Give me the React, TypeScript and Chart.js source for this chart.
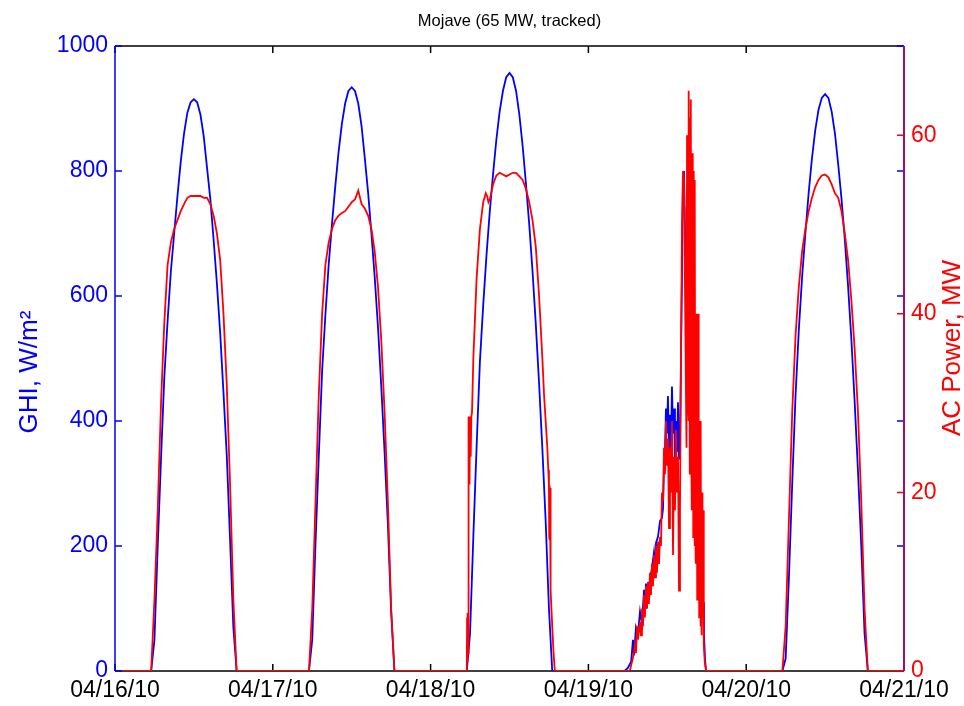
import React, { useEffect, useRef } from 'react';
import { Chart, registerables } from 'chart.js';

Chart.register(...registerables);

const titleText = 'Mojave (65 MW, tracked)';
const leftTitle = 'GHI, W/m\u00B2';
const rightTitle = 'AC Power, MW';
const dateLabels = ['04/16/10', '04/17/10', '04/18/10', '04/19/10', '04/20/10', '04/21/10'];
const ghiTicks = [0, 200, 400, 600, 800, 1000];
const acTicks = [0, 20, 40, 60];

// Clear-day sampling hours (hour of day)
const clearHours = [5.5, 6, 6.5, 7, 7.5, 8, 8.5, 9, 9.5, 10, 10.5, 11, 11.5, 12, 12.5, 13, 13.5, 14, 14.5, 15, 15.5, 16, 16.5, 17, 17.5, 18, 18.5];

const ghiDay1 = [0, 50, 200, 340, 470, 560, 640, 700, 760, 815, 860, 893, 910, 915, 910, 890, 855, 805, 755, 690, 620, 540, 445, 345, 210, 70, 0];
const acDay1 = [0, 8, 18, 30, 39, 45.5, 48, 49.5, 50.5, 51.5, 52.3, 53, 53.2, 53.2, 53.2, 53.2, 53, 53, 52.3, 51, 49, 46, 40, 32, 21, 8, 0];

const ghiDay2 = [0, 50, 205, 345, 480, 570, 650, 715, 775, 830, 875, 908, 928, 934, 928, 908, 872, 820, 765, 700, 630, 550, 455, 350, 235, 95, 0];
const acDay2 = [0, 7, 19, 31, 40, 45.5, 48, 49.5, 50.5, 51, 51.3, 51.5, 52, 52.5, 52.8, 53.8, 52.3, 51.8, 51, 49.5, 47, 43, 37, 29, 19, 7, 0];

const ghiDay3 = [0, 60, 215, 360, 495, 585, 665, 735, 795, 850, 895, 928, 950, 957, 950, 928, 890, 840, 780, 715, 640, 555, 460, 355, 240, 100, 0];
const acDay3Hours = [5.5, 5.55, 5.6, 5.65, 5.7, 5.75, 5.8, 5.85, 5.9, 5.95, 6.0, 6.1, 6.2, 6.3, 6.5, 7.0, 7.5, 8.0, 8.4, 8.6, 8.8, 9.0, 9.5, 10.0, 10.5, 11.0, 11.5, 12.0, 12.5, 13.0, 13.5, 14.0, 14.5, 15.0, 15.5, 16.0, 16.5, 17.0, 17.25, 17.5, 17.75, 17.9, 18.0, 18.04, 18.08, 18.12, 18.16, 18.2, 18.3, 18.5, 18.7, 18.9];
const acDay3 = [0, 6, 1, 6.5, 2, 22, 28.5, 21, 28.5, 22, 28, 24, 28.5, 29, 35, 44, 49.5, 52.5, 53.5, 53.2, 52.5, 52.8, 54.5, 55.5, 55.8, 55.6, 55.4, 55.6, 55.8, 55.8, 55.4, 55, 54, 52.5, 50.5, 47.5, 42, 35, 31, 28, 25, 22.5, 20.8, 15, 20.8, 14.7, 20.5, 15, 9, 5, 2, 0];

const ghiDay4Hours = [5.5, 6.0, 6.5, 6.78, 6.93, 7.24, 7.54, 7.85, 8.15, 8.46, 8.6, 8.76, 8.9, 9.06, 9.37, 9.67, 9.98, 10.13, 10.28, 10.59, 10.89, 11.19, 11.35, 11.5, 11.65, 11.8, 11.95, 12.1, 12.26, 12.41, 12.56, 12.71, 12.87, 13.02, 13.17, 13.32, 13.47, 13.63, 13.78, 13.93, 14.08, 14.24, 14.39, 14.54, 14.7, 14.85, 15.0, 15.15, 15.3, 15.45, 15.6, 15.76, 15.9, 16.06, 16.21, 16.36, 16.52, 16.67, 16.82, 16.97, 17.13, 17.28, 17.43, 17.58, 17.73, 17.89];
const ghiDay4 = [0, 5, 15, 50, 25, 70, 60, 95, 75, 130, 95, 140, 100, 125, 145, 165, 190, 170, 205, 215, 240, 245, 260, 330, 355, 420, 380, 440, 350, 410, 360, 455, 380, 420, 330, 400, 350, 430, 340, 360, 500, 640, 790, 800, 700, 600, 480, 560, 420, 500, 380, 470, 330, 400, 280, 360, 240, 300, 180, 230, 140, 170, 110, 60, 20, 0];
const acDay4Hours = [6.3, 6.78, 7.09, 7.24, 7.4, 7.54, 7.85, 8.0, 8.15, 8.3, 8.46, 8.6, 8.76, 8.9, 9.06, 9.2, 9.37, 9.52, 9.67, 9.83, 9.98, 10.13, 10.28, 10.43, 10.59, 10.74, 10.89, 11.04, 11.19, 11.35, 11.5, 11.65, 11.8, 11.95, 12.1, 12.26, 12.41, 12.56, 12.71, 12.87, 13.02, 13.17, 13.32, 13.47, 13.63, 13.78, 13.93, 14.08, 14.24, 14.39, 14.54, 14.7,
  14.85, 14.9, 14.95, 15.0, 15.05, 15.1, 15.15, 15.2, 15.25, 15.3, 15.35, 15.4, 15.45, 15.5, 15.55, 15.6, 15.65, 15.7, 15.75, 15.8, 15.85, 15.9, 15.95, 16.0, 16.05, 16.1, 16.15, 16.2, 16.25, 16.3, 16.35, 16.4, 16.45, 16.5, 16.55, 16.6, 16.65, 16.7, 16.75, 16.8, 16.85, 16.9, 16.95, 17.0, 17.05, 17.1, 17.15, 17.2, 17.25, 17.3, 17.35, 17.45, 17.55, 17.7, 17.89];
const acDay4 = [0, 1.5, 3, 2, 5, 3.5, 5.5, 4, 7, 5, 8.5, 6, 9.5, 7, 10, 7.5, 11, 8.5, 12, 9.5, 13, 10.5, 14, 11, 14.5, 12, 15, 14, 20, 19, 25, 22, 28, 23, 26, 16, 25, 20, 28, 13, 24, 18, 27, 20, 24, 9, 18, 35, 50, 56, 55, 42,
  30, 52, 25, 60, 35, 58, 30, 63, 28, 65, 40, 62, 22, 57, 30, 64, 25, 50, 18, 58, 22, 45, 15, 56, 20, 42, 14, 55, 18, 38, 12, 40, 20, 35, 8, 30, 15, 40, 10, 25, 6, 28, 10, 22, 5, 28, 8, 15, 4, 20, 6, 18, 3, 1, 0];

const ghiDay5 = [0, 20, 150, 300, 440, 545, 630, 700, 765, 820, 865, 898, 917, 923, 917, 895, 860, 810, 755, 690, 615, 530, 430, 320, 200, 60, 0];
const acDay5 = [0, 5, 17, 29, 37.5, 43, 47, 49.5, 51.5, 53, 54.2, 55, 55.5, 55.6, 55.3, 54.5, 53.5, 53, 51.5, 49, 46, 41.5, 36, 29, 19, 7, 0];

const seriesStartHour = 1;
const seriesEndHour = 119.9;

type Seg = { day: number; hours: number[]; values: number[] };

function buildSeries(segs: Seg[]) {
  const pts: { x: number; y: number }[] = [{ x: seriesStartHour, y: 0 }];
  segs.forEach((s) => {
    s.hours.forEach((h, i) => pts.push({ x: s.day * 24 + h, y: s.values[i] }));
  });
  pts.push({ x: seriesEndHour, y: 0 });
  return pts;
}

const FONT = "'Liberation Sans', Arial, Helvetica, sans-serif";

const framePlugin = {
  id: 'matlabFrame',
  beforeDatasetsDraw(chart: any) {
    const { ctx, chartArea } = chart;
    const { left, right, top, bottom } = chartArea;
    const yL = chart.scales.yL;
    const yR = chart.scales.yR;
    const x = chart.scales.x;
    ctx.save();
    ctx.lineWidth = 1.5;
    ctx.strokeStyle = '#000000';
    ctx.beginPath();
    ctx.moveTo(left, top);
    ctx.lineTo(right, top);
    ctx.moveTo(left, bottom);
    ctx.lineTo(right, bottom);
    ctx.stroke();
    ctx.beginPath();
    dateLabels.forEach((_, i) => {
      const px = x.getPixelForValue(i * 24);
      ctx.moveTo(px, bottom);
      ctx.lineTo(px, bottom - 7);
      ctx.moveTo(px, top);
      ctx.lineTo(px, top + 7);
    });
    ctx.stroke();
    ctx.strokeStyle = '#0000ff';
    ctx.beginPath();
    ctx.moveTo(left, top);
    ctx.lineTo(left, bottom);
    ghiTicks.forEach((v) => {
      const py = yL.getPixelForValue(v);
      ctx.moveTo(left, py);
      ctx.lineTo(left + 7, py);
      ctx.moveTo(right, py);
      ctx.lineTo(right - 7, py);
    });
    ctx.stroke();
    ctx.strokeStyle = '#ff0000';
    ctx.beginPath();
    acTicks.forEach((v) => {
      const py = yR.getPixelForValue(v);
      ctx.moveTo(right, py);
      ctx.lineTo(right - 7, py);
    });
    ctx.stroke();
    ctx.strokeStyle = '#a0106a';
    ctx.lineWidth = 2;
    ctx.beginPath();
    ctx.moveTo(right, top);
    ctx.lineTo(right, bottom);
    ctx.stroke();
    ctx.restore();
  },
  afterDraw(chart: any) {
    const { ctx, chartArea } = chart;
    const { left, right } = chartArea;
    ctx.save();
    ctx.fillStyle = '#000000';
    ctx.font = `16.5px ${FONT}`;
    ctx.textAlign = 'center';
    ctx.textBaseline = 'middle';
    ctx.fillText(titleText, (left + right) / 2, 21);
    ctx.restore();

    ctx.save();
    ctx.font = `26px ${FONT}`;
    ctx.fillStyle = '#0000ff';
    ctx.textAlign = 'center';
    ctx.textBaseline = 'middle';
    ctx.translate(30, 372);
    ctx.rotate(-Math.PI / 2);
    ctx.fillText(leftTitle, 0, 0);
    ctx.restore();

    ctx.save();
    ctx.font = `26px ${FONT}`;
    ctx.fillStyle = '#ff0000';
    ctx.textAlign = 'center';
    ctx.textBaseline = 'middle';
    ctx.translate(953, 348);
    ctx.rotate(-Math.PI / 2);
    ctx.fillText(rightTitle, 0, 0);
    ctx.restore();
  },
};

export default function App() {
  const canvasRef = useRef<HTMLCanvasElement | null>(null);

  useEffect(() => {
    if (!canvasRef.current) return;
    const ghiData = buildSeries([
      { day: 0, hours: clearHours, values: ghiDay1 },
      { day: 1, hours: clearHours, values: ghiDay2 },
      { day: 2, hours: clearHours, values: ghiDay3 },
      { day: 3, hours: ghiDay4Hours, values: ghiDay4 },
      { day: 4, hours: clearHours, values: ghiDay5 },
    ]);
    const acData = buildSeries([
      { day: 0, hours: clearHours, values: acDay1 },
      { day: 1, hours: clearHours, values: acDay2 },
      { day: 2, hours: acDay3Hours, values: acDay3 },
      { day: 3, hours: acDay4Hours, values: acDay4 },
      { day: 4, hours: clearHours, values: acDay5 },
    ]);

    const chart = new Chart(canvasRef.current, {
      type: 'line',
      data: {
        datasets: [
          {
            label: 'AC Power',
            data: acData,
            borderColor: '#ff0000',
            backgroundColor: '#ff0000',
            borderWidth: 1.8,
            pointRadius: 0,
            tension: 0,
            yAxisID: 'yR',
            xAxisID: 'x',
            order: 1,
          },
          {
            label: 'GHI',
            data: ghiData,
            borderColor: '#0000ff',
            backgroundColor: '#0000ff',
            borderWidth: 1.8,
            pointRadius: 0,
            tension: 0,
            yAxisID: 'yL',
            xAxisID: 'x',
            order: 2,
          },
        ],
      },
      options: {
        responsive: false,
        animation: false,
        devicePixelRatio: 1,
        layout: { padding: { top: 46, left: 0, right: 0, bottom: 0 } },
        plugins: {
          legend: { display: false },
          title: { display: false },
          tooltip: { enabled: false },
        },
        scales: {
          x: {
            type: 'linear',
            position: 'bottom',
            min: 0,
            max: 120,
            grid: { display: false, drawTicks: false },
            border: { display: false },
            afterBuildTicks: (s: any) => {
              s.ticks = dateLabels.map((_, i) => ({ value: i * 24 }));
            },
            afterFit: (s: any) => {
              s.height = 35;
            },
            ticks: {
              autoSkip: false,
              maxRotation: 0,
              color: '#000000',
              padding: 6,
              font: { family: FONT, size: 23 },
              callback: (v: any) => dateLabels[Math.round(Number(v) / 24)] ?? '',
            },
          },
          yL: {
            type: 'linear',
            position: 'left',
            min: 0,
            max: 1000,
            grid: { display: false, drawTicks: false },
            border: { display: false },
            afterBuildTicks: (s: any) => {
              s.ticks = ghiTicks.map((v) => ({ value: v }));
            },
            afterFit: (s: any) => {
              s.width = 115;
            },
            ticks: {
              color: '#0000ff',
              padding: 7,
              font: { family: FONT, size: 23 },
              callback: (v: any) => String(v),
            },
          },
          yR: {
            type: 'linear',
            position: 'right',
            min: 0,
            max: 70,
            grid: { display: false, drawTicks: false },
            border: { display: false },
            afterBuildTicks: (s: any) => {
              s.ticks = acTicks.map((v) => ({ value: v }));
            },
            afterFit: (s: any) => {
              s.width = 60;
            },
            ticks: {
              color: '#ff0000',
              padding: 7,
              font: { family: FONT, size: 23 },
              callback: (v: any) => String(v),
            },
          },
        },
      },
      plugins: [framePlugin],
    });
    return () => chart.destroy();
  }, []);

  return (
    <div style={{ position: 'absolute', left: 0, top: 0, width: 964, height: 706, background: '#ffffff' }}>
      <canvas ref={canvasRef} width={964} height={706} style={{ display: 'block', width: 964, height: 706 }} />
    </div>
  );
}
